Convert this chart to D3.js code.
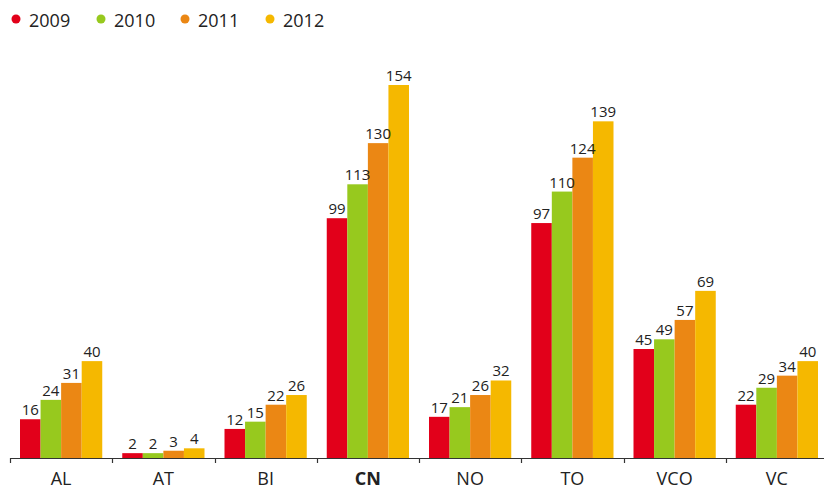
<!DOCTYPE html>
<html>
<head>
<meta charset="utf-8">
<script src="https://cdn.jsdelivr.net/npm/d3@7"></script>
<style>
  body { margin: 0; background: #fff; }
  svg { display: block; font-family: "Open Sans", "Noto Sans", sans-serif; }
</style>
</head>
<body>
<div id="chart"></div>
<script>
// data
var categories = ["AL", "AT", "BI", "CN", "NO", "TO", "VCO", "VC"];
var years = ["2009", "2010", "2011", "2012"];
var colors = ["#e2001a", "#97c91e", "#eb8714", "#f5b800"];
var values2009 = [16, 2, 12, 99, 17, 97, 45, 22];
var values2010 = [24, 2, 15, 113, 21, 110, 49, 29];
var values2011 = [31, 3, 22, 130, 26, 124, 57, 34];
var values2012 = [40, 4, 26, 154, 32, 139, 69, 40];
var seriesValues = [values2009, values2010, values2011, values2012];
var boldCategory = "CN";

var attrs = {
    width: 824,
    height: 491,
    baseline: 458,
    top: 85,
    left: 10,
    right: 828
};

var svg = d3.select("#chart").append("svg")
    .attr("width", attrs.width)
    .attr("height", attrs.height);

var x0 = d3.scaleBand()
    .domain(categories)
    .range([attrs.left, attrs.right])
    .paddingInner(0)
    .paddingOuter(0);

var x1 = d3.scaleBand()
    .domain(years)
    .range([10, x0.bandwidth() - 10])
    .padding(0);

var y = d3.scaleLinear()
    .domain([0, 154])
    .range([attrs.baseline, attrs.top]);

// flatten to one record per bar
var bars = [];
categories.forEach(function(c, i) {
    years.forEach(function(yr, j) {
        bars.push({ cat: c, year: yr, value: seriesValues[j][i], color: colors[j] });
    });
});

var groups = svg.append("g").attr("class", "bars");

groups.selectAll("rect").data(bars).enter()
    .append("rect")
    .attr("x", function(d) { return x0(d.cat) + x1(d.year); })
    .attr("y", function(d) { return y(d.value); })
    .attr("width", x1.bandwidth())
    .attr("height", function(d) { return attrs.baseline - y(d.value); })
    .attr("fill", function(d) { return d.color; });

groups.selectAll("text").data(bars).enter()
    .append("text")
    .attr("x", function(d) { return x0(d.cat) + x1(d.year) + x1.bandwidth() / 2; })
    .attr("y", function(d) { return y(d.value) - 4; })
    .attr("text-anchor", "middle")
    .attr("font-size", 15)
    .attr("fill", "#222")
    .text(function(d) { return d.value; });

// x axis: line with ticks between groups
var axis = svg.append("g").attr("class", "axis");
axis.append("line")
    .attr("x1", attrs.left).attr("x2", attrs.width)
    .attr("y1", attrs.baseline + 0.5).attr("y2", attrs.baseline + 0.5)
    .attr("stroke", "#333").attr("stroke-width", 1.2);

axis.selectAll(".tick").data(categories).enter()
    .append("line")
    .attr("class", "tick")
    .attr("x1", function(d) { return Math.round(x0(d)) + 0.5; })
    .attr("x2", function(d) { return Math.round(x0(d)) + 0.5; })
    .attr("y1", attrs.baseline)
    .attr("y2", attrs.baseline + 5)
    .attr("stroke", "#333").attr("stroke-width", 1.2);

axis.selectAll(".label").data(categories).enter()
    .append("text")
    .attr("class", "label")
    .attr("x", function(d) { return x0(d) + x0.bandwidth() / 2; })
    .attr("y", 485)
    .attr("text-anchor", "middle")
    .attr("font-size", 18)
    .attr("font-weight", function(d) { return d === boldCategory ? "bold" : "normal"; })
    .attr("fill", "#222")
    .text(function(d) { return d; });

// legend
var legendX = [16, 101, 185, 270];
var legend = svg.append("g").attr("class", "legend");
var items = legend.selectAll("g").data(years).enter()
    .append("g")
    .attr("transform", function(d, i) { return "translate(" + legendX[i] + ",20)"; });
items.append("circle")
    .attr("r", 4.5)
    .attr("cy", -1)
    .attr("fill", function(d, i) { return colors[i]; });
items.append("text")
    .attr("x", 13)
    .attr("y", 7)
    .attr("font-size", 18)
    .attr("fill", "#222")
    .text(function(d) { return d; });
</script>
</body>
</html>
